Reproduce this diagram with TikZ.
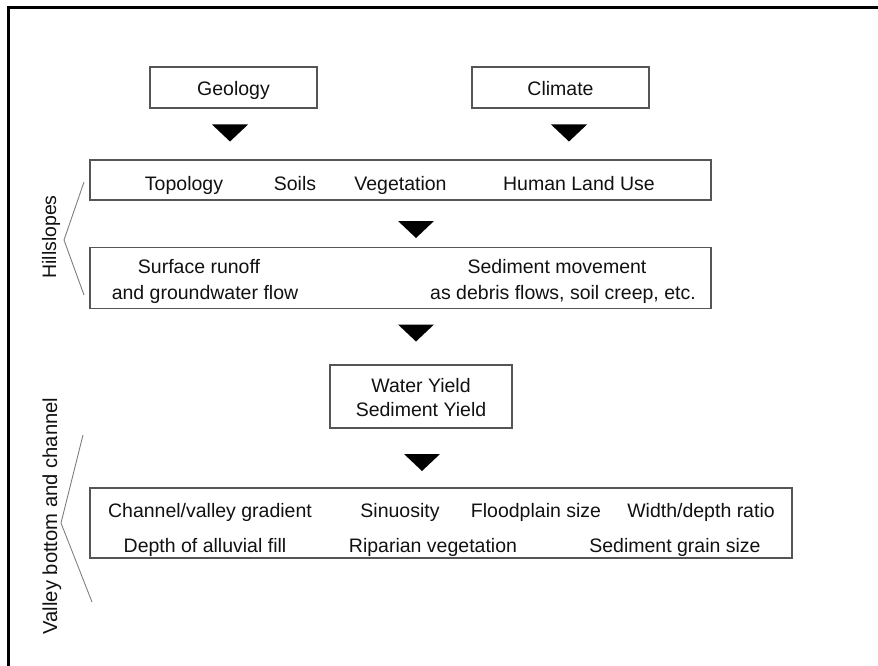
\documentclass[tikz,border=0pt]{standalone}
\usepackage{fontspec}
\setmainfont{Liberation Sans}
\definecolor{boxgray}{HTML}{555555}
\definecolor{txt}{HTML}{111111}
\begin{document}
\begin{tikzpicture}[x=1pt,y=-1pt,
  box/.style={draw=boxgray, line width=1.5pt, inner sep=0pt},
  lbl/.style={font=\fontsize{19.5}{24}\selectfont, text=txt, inner sep=0pt, anchor=base},
  side/.style={text=txt, inner sep=0pt, rotate=90},
  tri/.style={fill=black},
  brk/.style={draw=gray, line width=0.9pt}]
\useasboundingbox (0,0) rectangle (878,666);
% frame
\draw[line width=2.2pt] (8.5,666) -- (8.5,7.5) -- (878,7.5);

% top boxes
\node[box, minimum width=167, minimum height=41] (geo) at (233.5,87.5) {};
\node[lbl] (geot) at (233.5,96) {Geology};
\node[box, minimum width=177, minimum height=41] (cli) at (560.5,87.5) {};
\node[lbl] (clit) at (560.5,96) {Climate};

% triangles
\coordinate (t1) at (230,133);
\coordinate (t2) at (569,133);
\coordinate (t3) at (416,229.5);
\coordinate (t4) at (416,333);
\coordinate (t5) at (422,462.5);
\foreach \t in {t1,t2,t3,t4,t5}
  \fill[tri] (\t) ++(-18,-8.5) -- ++(36,0) -- ++(-18,17) -- cycle;

% topology box
\node[box, minimum width=621, minimum height=40] (topo) at (400.5,180) {};
\node[lbl] (topology) at (184,190) {Topology};
\node[lbl] (soils) at (295,190) {Soils};
\node[lbl] (veg) at (400.5,190) {Vegetation};
\node[lbl] (hlu) at (579,190) {Human Land Use};

% runoff / sediment movement box
\node[box, minimum width=621, minimum height=61] (flow) at (400.5,278) {};
\node[lbl] (sr1) at (199,273.5) {Surface runoff};
\node[lbl] (sr2) at (205,299) {and groundwater flow};
\node[lbl] (sm1) at (557,273.5) {Sediment movement};
\node[lbl] (sm2) at (563,299) {as debris flows, soil creep, etc.};

% yield box
\node[box, minimum width=182, minimum height=63] (yield) at (421,396.5) {};
\node[lbl] (wy) at (421,392) {Water Yield};
\node[lbl] (sy) at (421,416) {Sediment Yield};

% channel box
\node[box, minimum width=702, minimum height=70] (chan) at (441,523) {};
\node[lbl] (c1) at (210,517) {Channel/valley gradient};
\node[lbl] (c2) at (400,517) {Sinuosity};
\node[lbl] (c3) at (536,517) {Floodplain size};
\node[lbl] (c4) at (701,517) {Width/depth ratio};
\node[lbl] (c5) at (205,552) {Depth of alluvial fill};
\node[lbl] (c6) at (433,552) {Riparian vegetation};
\node[lbl] (c7) at (675,552) {Sediment grain size};

% side brackets
\coordinate (h1) at (84,182);
\coordinate (h2) at (64,240);
\coordinate (h3) at (84,295);
\draw[brk] (h1) -- (h2) -- (h3);
\node[side, font=\fontsize{19.5}{24}\selectfont] (hill) at (51,237) {Hillslopes};
\coordinate (v1) at (83,435);
\coordinate (v2) at (61,523);
\coordinate (v3) at (92,602);
\draw[brk] (v1) -- (v2) -- (v3);
\node[side, font=\fontsize{20.2}{24}\selectfont] (valley) at (52,516) {Valley bottom and channel};
\end{tikzpicture}
\end{document}
